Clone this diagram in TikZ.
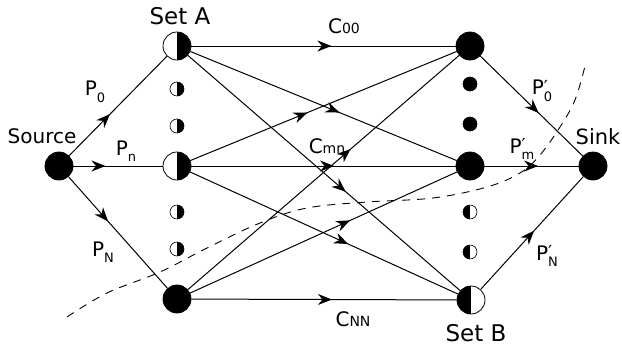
\documentclass[tikz,border=0pt]{standalone}
\usepackage{fontspec}
\setmainfont{DejaVu Sans}
\usepackage{tikz}
\usetikzlibrary{shapes,arrows,arrows.meta}
\usetikzlibrary{decorations.markings}

\newcommand{\lowsub}[1]{\raisebox{-0.6ex}{\fontsize{13}{14}\selectfont #1}}
\newcommand{\basesub}[1]{{\fontsize{14}{15}\selectfont #1}}
\newcommand{\primed}[1]{\rlap{\raisebox{0.1ex}{\fontsize{18}{19}\selectfont ′}}\lowsub{#1}}

\tikzset{
  bignode/.style={circle,draw,line width=0.8pt,minimum size=28pt,inner sep=0pt},
  smalldot/.style={circle,draw,line width=0.6pt,minimum size=14pt,inner sep=0pt},
  fullblack/.style={fill=black},
  rightblack/.style={fill=white,path picture={\fill[black] (path picture bounding box.north) rectangle (path picture bounding box.south east);}},
  leftblack/.style={fill=white,path picture={\fill[black] (path picture bounding box.south west) rectangle (path picture bounding box.north);}},
  flow/.style={draw,line width=1pt,postaction={decorate},
    decoration={markings,mark=at position #1 with {\arrow{Stealth[length=14pt,width=11pt,inset=4.5pt]}}}},
  lbl/.style={font=\fontsize{20}{22}\selectfont,inner sep=0pt},
  biglbl/.style={font=\fontsize{23}{25}\selectfont,inner sep=0pt}
}

\begin{document}
\begin{tikzpicture}[x=1pt,y=-1pt]
        \useasboundingbox (0,0) rectangle (622,349);

        % Nodes
        \draw (59,166)  node(s)  [bignode,fullblack] {};
        \draw (177,46)  node(a0) [bignode,rightblack] {};
        \draw (177,166) node(an) [bignode,rightblack] {};
        \draw (177,299) node(aN) [bignode,fullblack] {};
        \draw (470,46)  node(b0) [bignode,fullblack] {};
        \draw (470,166) node(bm) [bignode,fullblack] {};
        \draw (471,300) node(bN) [bignode,leftblack] {};
        \draw (593,166) node(t)  [bignode,fullblack] {};

        % Dots between the nodes
        \draw (177,89)  node(da1) [smalldot,rightblack] {};
        \draw (177,126) node(da2) [smalldot,rightblack] {};
        \draw (177,212) node(da3) [smalldot,rightblack] {};
        \draw (177,249) node(da4) [smalldot,rightblack] {};
        \draw (470,84)  node(db1) [smalldot,fullblack] {};
        \draw (470,124) node(db2) [smalldot,fullblack] {};
        \draw (470,212) node(db3) [smalldot,leftblack] {};
        \draw (470,252) node(db4) [smalldot,leftblack] {};

        % Edges
        \path (s) edge[flow=0.42] (a0);
        \path (s) edge[flow=0.36] (an);
        \path (s) edge[flow=0.40] (aN);

        \path (a0) edge[flow=0.53] (b0);
        \path (a0) edge[flow=0.56] (bm);
        \path (a0) edge[flow=0.58] (bN);
        \path (an) edge[flow=0.44] (b0);
        \path (an) edge[flow=0.54] (bm);
        \path (an) edge[flow=0.59] (bN);
        \path (aN) edge[flow=0.60] (b0);
        \path (aN) edge[flow=0.60] (bm);
        \path (aN) edge[flow=0.53] (bN);

        \path (b0) edge[flow=0.57] (t);
        \path (bm) edge[flow=0.57] (t);
        \path (bN) edge[flow=0.52] (t);

        % Cut
        \draw[line width=0.9pt,dash pattern=on 8pt off 7pt] plot[smooth,tension=0.6] coordinates
          {(67,317) (107,293) (160,272) (207,248) (260,223) (307,208) (367,202) (433,198)
           (487,187) (520,173) (540,155) (560,127) (575,100) (585,66)};

        % Labels
        \draw (180,16)  node(seta)   [biglbl] {Set A};
        \draw (476,333) node(setb)   [biglbl] {Set B};
        \draw (42,136)  node(source) [lbl] {Source};
        \draw (598,137) node(sink)   [lbl,font=\fontsize{21}{23}\selectfont] {Sink};
        \draw (344,26)  node(c00)    [lbl] {C\basesub{00}};
        \draw (327,146) node(cmn)    [lbl] {C\basesub{mn}};
        \draw (353,319) node(cnn)    [lbl] {C\basesub{NN}};
        \draw (95,92)   node(p0)     [lbl] {P\lowsub{0}};
        \draw (126,151) node(pn)     [lbl] {P\lowsub{n}};
        \draw (103,252) node(pN)     [lbl] {P\lowsub{N}};
        \draw (542,91)  node(q0)     [lbl] {P\primed{0}};
        \draw (522,149) node(qm)     [lbl] {P\primed{m}};
        \draw (547,256) node(qN)     [lbl] {P\primed{N}};

      \end{tikzpicture}
\end{document}
